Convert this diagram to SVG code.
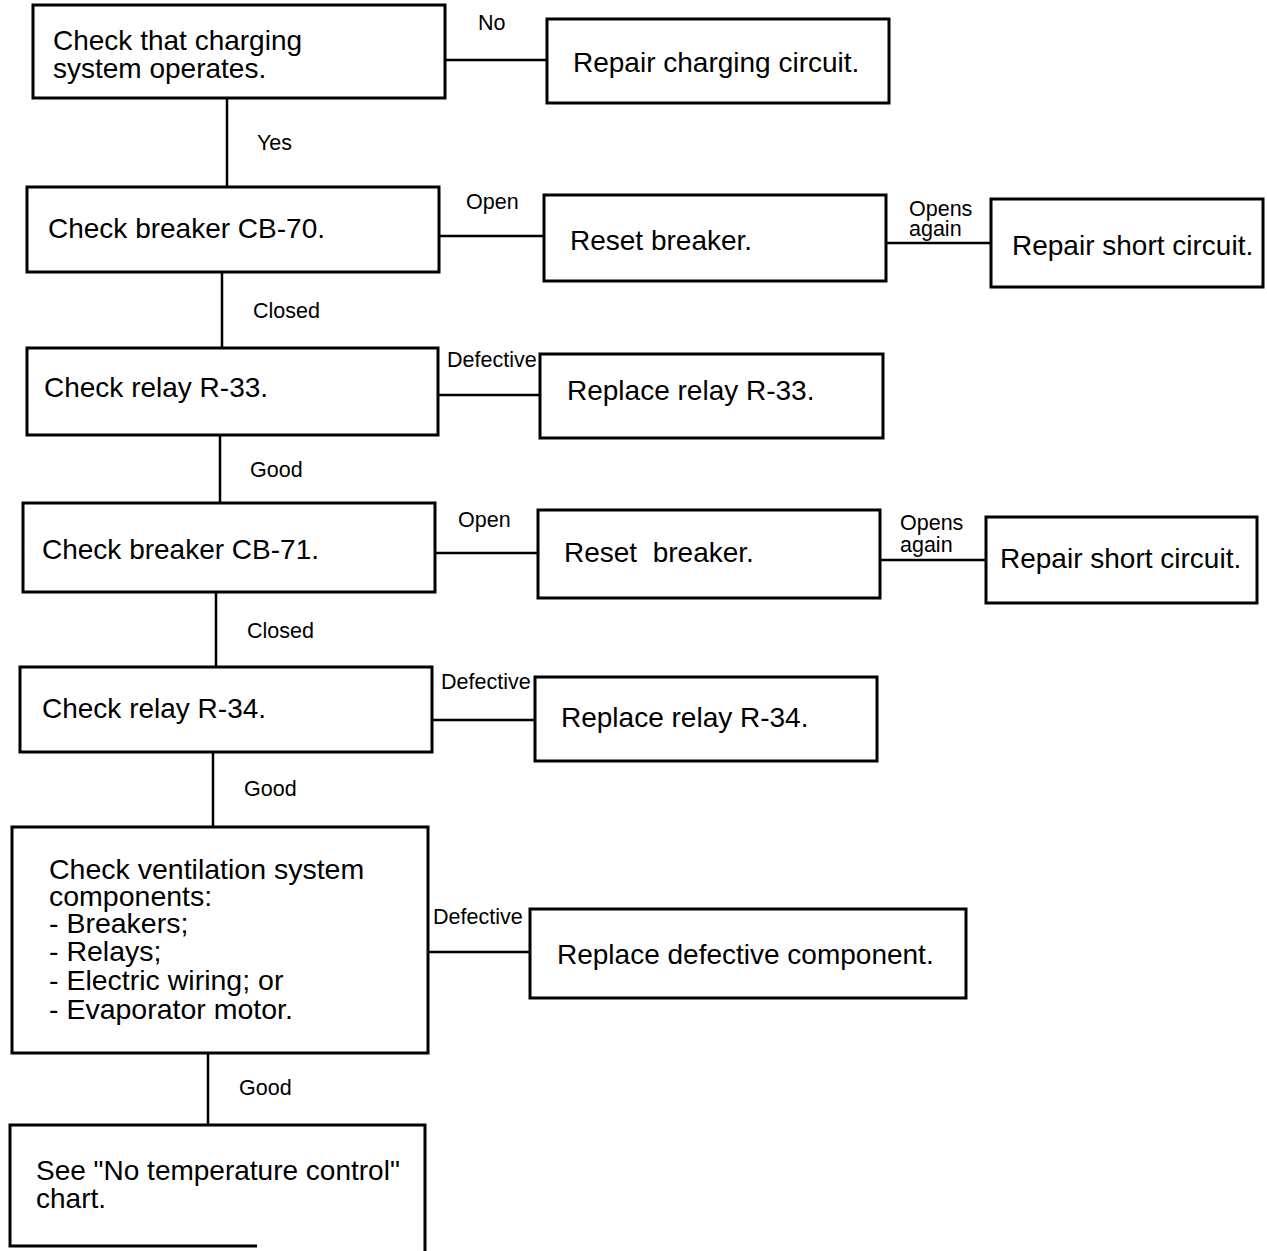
<svg xmlns="http://www.w3.org/2000/svg" width="1267" height="1251" viewBox="0 0 1267 1251">
<style>
.box{fill:#fff;stroke:#000;stroke-width:3}
.t{font-family:"Liberation Sans",Arial,sans-serif;font-size:28px;fill:#000}
.v{font-size:28.5px}
.l{font-family:"Liberation Sans",Arial,sans-serif;font-size:21.5px;fill:#000}
.c{stroke:#000;stroke-width:2.5;fill:none}
</style>
<rect width="1267" height="1251" fill="#fff"/>
<g id="connectors">
<line class="c" x1="445" y1="60" x2="547" y2="60"/>
<line class="c" x1="227" y1="98" x2="227" y2="187"/>
<line class="c" x1="439" y1="236" x2="544" y2="236"/>
<line class="c" x1="886" y1="243" x2="991" y2="243"/>
<line class="c" x1="222" y1="272" x2="222" y2="348"/>
<line class="c" x1="438" y1="395" x2="540" y2="395"/>
<line class="c" x1="220" y1="435" x2="220" y2="503"/>
<line class="c" x1="435" y1="553" x2="538" y2="553"/>
<line class="c" x1="880" y1="560" x2="986" y2="560"/>
<line class="c" x1="216" y1="592" x2="216" y2="667"/>
<line class="c" x1="432" y1="720" x2="535" y2="720"/>
<line class="c" x1="213" y1="752" x2="213" y2="827"/>
<line class="c" x1="428" y1="952" x2="530" y2="952"/>
<line class="c" x1="208" y1="1053" x2="208" y2="1125"/>
<text class="l" x="478" y="30">No</text>
<text class="l" x="257" y="150">Yes</text>
<text class="l" x="466" y="209">Open</text>
<text class="l" x="909" y="216">Opens</text>
<text class="l" x="909" y="236">again</text>
<text class="l" x="253" y="318">Closed</text>
<text class="l" x="447" y="367">Defective</text>
<text class="l" x="250" y="477">Good</text>
<text class="l" x="458" y="527">Open</text>
<text class="l" x="900" y="530">Opens</text>
<text class="l" x="900" y="552">again</text>
<text class="l" x="247" y="638">Closed</text>
<text class="l" x="441" y="689">Defective</text>
<text class="l" x="244" y="796">Good</text>
<text class="l" x="433" y="924">Defective</text>
<text class="l" x="239" y="1095">Good</text>
</g>
<g id="n1"><rect class="box" x="33" y="5" width="412" height="93"/><text class="t" x="53" y="50">Check that charging</text><text class="t" x="53" y="78">system operates.</text></g>
<g id="n2"><rect class="box" x="547" y="19" width="342" height="84"/><text class="t" x="573" y="72">Repair charging circuit.</text></g>
<g id="n3"><rect class="box" x="27" y="187" width="412" height="85"/><text class="t" x="48" y="238">Check breaker CB-70.</text></g>
<g id="n4"><rect class="box" x="544" y="195" width="342" height="86"/><text class="t" x="570" y="250">Reset breaker.</text></g>
<g id="n5"><rect class="box" x="991" y="199" width="272" height="88"/><text class="t" x="1012" y="255">Repair short circuit.</text></g>
<g id="n6"><rect class="box" x="27" y="348" width="411" height="87"/><text class="t" x="44" y="397">Check relay R-33.</text></g>
<g id="n7"><rect class="box" x="540" y="354" width="343" height="84"/><text class="t" x="567" y="400">Replace relay R-33.</text></g>
<g id="n8"><rect class="box" x="23" y="503" width="412" height="89"/><text class="t" x="42" y="559">Check breaker CB-71.</text></g>
<g id="n9"><rect class="box" x="538" y="510" width="342" height="88"/><text class="t" x="564" y="562" xml:space="preserve">Reset  breaker.</text></g>
<g id="n10"><rect class="box" x="986" y="517" width="271" height="86"/><text class="t" x="1000" y="568">Repair short circuit.</text></g>
<g id="n11"><rect class="box" x="20" y="667" width="412" height="85"/><text class="t" x="42" y="718">Check relay R-34.</text></g>
<g id="n12"><rect class="box" x="535" y="677" width="342" height="84"/><text class="t" x="561" y="727">Replace relay R-34.</text></g>
<g id="n13"><rect class="box" x="12" y="827" width="416" height="226"/>
<text class="t v" x="49" y="879">Check ventilation system</text>
<text class="t v" x="49" y="906">components:</text>
<text class="t v" x="49" y="933">- Breakers;</text>
<text class="t v" x="49" y="961">- Relays;</text>
<text class="t v" x="49" y="990">- Electric wiring; or</text>
<text class="t v" x="49" y="1019">- Evaporator motor.</text></g>
<g id="n14"><rect class="box" x="530" y="909" width="436" height="89"/><text class="t" x="557" y="964">Replace defective component.</text></g>
<g id="n15"><path class="box" d="M257 1246 H10 V1125 H425 V1251" fill="#fff"/><text class="t" x="36" y="1180">See "No temperature control"</text><text class="t" x="36" y="1208">chart.</text></g>
</svg>
